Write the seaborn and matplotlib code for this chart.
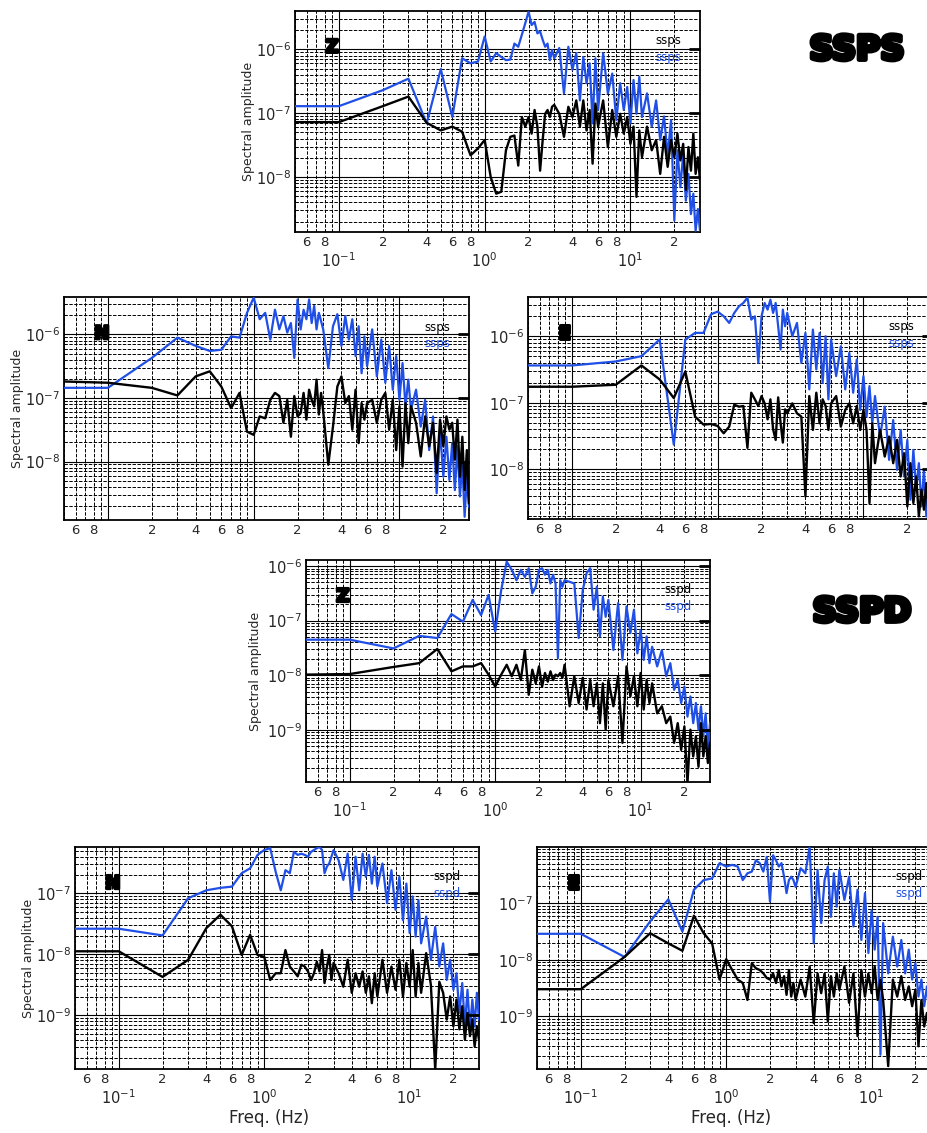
import numpy as np
import pandas as pd
import matplotlib
matplotlib.use("Agg")
import matplotlib.pyplot as plt
import matplotlib.patheffects as pe
from matplotlib import ticker
import seaborn as sns

# ---------------- data ----------------
freq_hz = [0.05, 0.1, 0.2, 0.3, 0.4, 0.5, 0.6, 0.7, 0.8, 0.9, 1.0,
           1.1, 1.2, 1.3, 1.4, 1.5, 1.6, 1.7, 1.8, 1.9, 2.0,
           2.1, 2.2, 2.3, 2.4, 2.5, 2.6, 2.7, 2.8, 2.9, 3.0,
           3.25, 3.5, 3.75, 4.0, 4.25, 4.5, 4.75, 5.0, 5.25, 5.5, 5.75, 6.0,
           6.5, 7.0, 7.5, 8.0, 8.5, 9.0, 9.5, 10, 10.5, 11, 11.5, 12,
           13, 14, 15, 16, 17, 18, 19, 20, 21, 22, 23, 24, 25, 26, 27, 28, 29, 30]

# log10 of spectral amplitude
ssps_z_blue_log10 = [-6.89, -6.89, -6.64, -6.46, -7.16, -6.31, -7.06, -6.14, -6.22, -6.19, -5.80,
                     -6.19, -6.06, -6.12, -6.17, -6.16, -5.91, -5.96, -5.77, -5.59, -5.41,
                     -5.62, -5.57, -5.75, -5.72, -5.85, -5.96, -5.91, -6.17, -6.01, -6.14,
                     -5.98, -6.69, -5.96, -6.32, -6.06, -6.80, -6.12, -6.53, -6.22, -7.16, -6.14, -6.95,
                     -6.06, -6.69, -6.38, -7.11, -6.53, -6.95, -6.59, -7.16, -6.48, -7.01, -6.43, -7.06,
                     -6.69, -7.21, -6.80, -7.42, -7.05, -7.66, -7.11, -8.68, -7.58, -8.16, -7.64, -8.37, -7.95, -8.58, -8.26, -8.84, -8.50, -8.84]
ssps_z_black_log10 = [-7.14, -7.14, -6.89, -6.74, -7.15, -7.27, -7.21, -7.29, -7.66, -7.55, -7.42,
                      -8.00, -8.26, -8.23, -7.58, -7.37, -7.35, -7.82, -7.06, -7.21, -7.06,
                      -7.32, -6.95, -7.21, -7.90, -7.42, -7.01, -6.95, -7.06, -6.90, -6.87,
                      -7.01, -7.37, -6.90, -7.06, -6.80, -7.21, -6.80, -7.27, -6.95, -7.79, -6.85, -7.21,
                      -6.80, -7.53, -6.95, -7.37, -7.01, -7.32, -7.06, -7.48, -7.21, -8.31, -7.27, -7.69,
                      -7.21, -7.58, -7.42, -7.95, -7.37, -7.84, -7.42, -7.69, -7.32, -7.74, -7.48, -8.20, -7.53, -7.90, -7.32, -7.95, -7.69, -8.05]

ssps_n_blue_log10 = [-6.84, -6.84, -6.37, -6.05, -6.18, -6.26, -6.24, -6.03, -6.05, -5.66, -5.42,
                     -5.76, -5.66, -6.08, -5.61, -5.92, -5.71, -5.97, -5.82, -6.37, -5.45,
                     -5.92, -5.61, -5.76, -5.45, -5.82, -5.55, -5.92, -5.66, -5.79, -5.92,
                     -6.53, -5.87, -5.68, -6.18, -5.71, -6.08, -5.76, -6.34, -5.87, -6.61, -6.03, -6.50,
                     -5.92, -6.66, -6.08, -6.76, -6.18, -6.87, -6.34, -7.03, -6.45, -7.13, -6.71, -7.18,
                     -6.87, -7.45, -7.03, -7.82, -7.29, -8.50, -7.50, -8.24, -7.61, -8.29, -7.71, -8.45, -7.76, -8.55, -8.03, -8.87, -8.24, -8.71]
ssps_n_black_log10 = [-6.74, -6.76, -6.84, -6.96, -6.66, -6.58, -6.82, -7.16, -6.92, -7.53, -7.58,
                      -7.29, -7.32, -7.03, -6.92, -6.97, -7.39, -7.03, -7.61, -6.97, -7.29,
                      -7.24, -6.92, -7.34, -6.87, -7.03, -7.13, -6.71, -7.26, -6.92, -7.21,
                      -8.05, -7.45, -6.82, -6.66, -7.08, -6.97, -7.50, -6.87, -7.71, -7.08, -7.34, -7.08,
                      -7.03, -7.39, -7.03, -6.92, -7.50, -7.03, -7.82, -7.13, -8.08, -7.08, -7.71, -7.13,
                      -7.39, -7.92, -7.29, -7.76, -7.39, -8.18, -7.34, -7.76, -7.29, -7.50, -7.39, -7.97, -7.34, -8.24, -7.61, -8.45, -7.82, -8.66]

ssps_e_blue_log10 = [-6.44, -6.44, -6.38, -6.30, -6.05, -7.63, -6.05, -5.95, -5.95, -5.67, -5.63,
                     -5.70, -5.80, -5.65, -5.55, -5.50, -5.42, -5.75, -5.70, -6.40, -5.70,
                     -5.50, -5.60, -5.45, -5.65, -5.50, -5.85, -6.20, -5.60, -5.85, -5.65,
                     -6.00, -5.80, -6.40, -5.95, -6.80, -5.90, -6.50, -5.95, -6.70, -6.00, -6.95, -6.05,
                     -6.60, -6.15, -6.80, -6.25, -6.85, -6.35, -7.11, -6.60, -7.21, -6.75, -7.31, -6.90,
                     -7.51, -7.06, -7.86, -7.26, -8.01, -7.41, -8.11, -7.56, -8.46, -7.71, -8.31, -7.91, -8.56, -8.01, -8.71, -8.31, -8.71, -8.41]
ssps_e_black_log10 = [-6.76, -6.76, -6.73, -6.44, -6.65, -6.93, -6.53, -7.21, -7.33, -7.32, -7.35,
                      -7.46, -7.36, -7.03, -7.06, -7.05, -7.68, -6.85, -6.95, -7.05, -6.90,
                      -7.01, -7.25, -6.95, -7.40, -7.56, -6.92, -7.30, -7.60, -7.10, -7.16,
                      -7.01, -7.16, -7.21, -8.41, -6.90, -7.41, -6.85, -7.31, -6.95, -7.05, -7.41, -7.01,
                      -6.90, -7.36, -7.11, -7.01, -7.31, -7.05, -7.41, -7.11, -7.41, -8.51, -7.31, -7.91,
                      -7.41, -7.81, -7.51, -7.91, -7.56, -8.11, -7.76, -8.56, -7.91, -8.51, -8.11, -8.71, -8.31, -8.61, -8.21, -8.71, -8.41, -8.61]

sspd_z_blue_log10 = [-7.35, -7.35, -7.51, -7.28, -7.32, -6.88, -7.02, -6.62, -6.90, -6.53, -7.20,
                     -6.44, -5.92, -6.07, -6.26, -6.07, -6.20, -6.04, -6.50, -6.38, -6.07,
                     -6.04, -6.16, -6.07, -6.32, -6.16, -6.32, -7.69, -6.26, -6.38, -6.26,
                     -6.29, -6.32, -7.32, -6.44, -6.13, -6.04, -6.80, -6.38, -7.29, -6.56, -6.93, -6.62,
                     -7.54, -6.68, -7.72, -6.74, -7.23, -6.80, -7.60, -7.17, -7.72, -7.29, -7.78, -7.48,
                     -7.84, -7.54, -8.02, -7.78, -8.27, -8.09, -8.51, -8.21, -8.76, -8.39, -8.88, -8.51, -9.00, -8.57, -9.12, -8.70, -9.37, -8.88]
sspd_z_black_log10 = [-7.99, -7.98, -7.85, -7.78, -7.52, -7.93, -7.84, -7.84, -7.78, -7.99, -8.21,
                      -7.99, -7.81, -8.02, -7.81, -8.09, -7.54, -8.36, -7.90, -8.15, -7.84,
                      -8.21, -7.96, -8.12, -7.93, -8.09, -7.99, -8.02, -7.96, -8.05, -7.81,
                      -8.57, -8.02, -8.51, -8.05, -8.63, -8.09, -8.57, -8.15, -8.88, -8.15, -9.00, -8.09,
                      -8.57, -8.02, -9.24, -7.84, -8.39, -8.02, -8.57, -7.96, -8.63, -8.09, -8.51, -8.15,
                      -8.70, -8.57, -8.88, -8.76, -9.24, -8.88, -9.37, -8.94, -9.98, -9.00, -9.49, -9.12, -9.68, -8.88, -9.49, -9.12, -9.61, -9.24]

sspd_n_blue_log10 = [-7.58, -7.58, -7.69, -7.08, -6.95, -6.91, -6.89, -6.67, -6.59, -6.37, -6.29,
                     -6.26, -6.65, -6.95, -6.62, -6.67, -6.32, -6.37, -6.35, -6.37, -6.40,
                     -6.32, -6.29, -6.26, -6.24, -6.29, -6.67, -6.56, -6.51, -6.40, -6.29,
                     -6.46, -6.78, -6.35, -7.11, -6.40, -6.95, -6.35, -6.73, -6.37, -6.84, -6.40, -6.89,
                     -6.51, -7.16, -6.62, -7.27, -6.73, -7.44, -6.84, -7.65, -7.05, -7.71, -7.11, -7.82,
                     -7.38, -8.09, -7.55, -8.20, -7.82, -8.42, -8.09, -8.58, -8.31, -8.96, -8.47, -9.18, -8.58, -9.23, -8.74, -9.18, -8.63, -9.07]
sspd_n_black_log10 = [-7.95, -7.95, -8.37, -8.09, -7.57, -7.35, -7.54, -8.01, -7.68, -8.01, -8.04,
                      -8.42, -8.31, -8.31, -7.93, -8.20, -8.28, -8.36, -8.17, -8.20, -8.28,
                      -8.42, -8.31, -8.12, -8.28, -7.93, -8.47, -8.20, -8.01, -8.42, -8.14,
                      -8.31, -8.53, -8.09, -8.63, -8.31, -8.53, -8.28, -8.63, -8.36, -8.80, -8.31, -8.69,
                      -8.09, -8.63, -8.20, -8.58, -8.09, -8.69, -8.14, -8.53, -7.93, -8.69, -8.14, -8.63,
                      -7.98, -8.50, -9.89, -8.45, -8.63, -9.07, -8.69, -9.18, -8.74, -9.23, -8.85, -9.40, -8.96, -9.34, -9.07, -9.51, -9.18, -9.40]

sspd_e_blue_log10 = [-7.54, -7.54, -7.95, -7.32, -6.93, -7.50, -6.76, -6.59, -6.56, -6.29, -6.35,
                     -6.32, -6.35, -6.59, -6.47, -6.44, -6.24, -6.29, -6.44, -6.18, -6.97,
                     -6.15, -6.24, -6.35, -6.29, -6.53, -6.82, -6.59, -6.53, -6.59, -6.71,
                     -6.38, -6.47, -6.00, -7.71, -6.41, -7.35, -6.59, -6.35, -7.24, -6.47, -7.06, -6.41,
                     -6.94, -6.53, -7.41, -6.76, -7.65, -6.82, -7.88, -7.12, -7.82, -7.24, -9.68, -7.35,
                     -8.24, -7.59, -8.12, -7.65, -8.24, -7.82, -8.35, -8.06, -8.65, -8.35, -8.82, -8.47, -8.94, -8.59, -9.06, -8.71, -9.18, -8.82]
sspd_e_black_log10 = [-8.52, -8.52, -7.95, -7.53, -7.71, -7.84, -7.22, -7.53, -7.71, -8.35, -7.99,
                      -8.18, -8.35, -8.41, -8.71, -8.06, -8.15, -8.18, -8.24, -8.32, -8.35,
                      -8.24, -8.41, -8.18, -8.47, -8.29, -8.62, -8.18, -8.65, -8.41, -8.71,
                      -8.35, -8.65, -8.12, -9.12, -8.24, -8.59, -8.24, -9.09, -8.29, -8.65, -8.24, -8.53,
                      -8.12, -8.76, -8.24, -9.35, -8.18, -8.65, -8.24, -8.59, -8.12, -8.71, -8.35, -8.71,
                      -9.88, -8.35, -8.65, -8.29, -8.71, -8.47, -8.82, -8.53, -9.53, -8.71, -9.18, -8.94, -9.29, -9.06, -9.41, -9.18, -9.53, -9.29]

component_labels = ["Z", "N", "E", "Z", "N", "E"]
station_tags = ["ssps", "ssps", "ssps", "sspd", "sspd", "sspd"]
group_titles = ["SSPS", "SSPD"]
y_label = "Spectral amplitude"
x_label = "Freq. (Hz)"

# ---------------- styling ----------------
sns.set_style("white")
plt.rcParams['font.family'] = ['DejaVu Sans']
plt.rcParams['mathtext.fontset'] = 'dejavusans'

BLUE = "#1f4fe6"
W, H = 928, 1133
fig = plt.figure(figsize=(W / 100, H / 100), dpi=100)


def rect(left, top, right, bottom):
    return [left / W, 1 - bottom / H, (right - left) / W, (bottom - top) / H]


panels = [
    dict(r=rect(295, 11, 700, 232), blue=ssps_z_blue_log10, black=ssps_z_black_log10,
         ylim=(1.38e-9, 3.98e-6), ylab=True, dec=True, xlab=False, ycoord=-0.098),
    dict(r=rect(64, 297, 469, 520), blue=ssps_n_blue_log10, black=ssps_n_black_log10,
         ylim=(1.20e-9, 3.89e-6), ylab=True, dec=False, xlab=False, ycoord=-0.098),
    dict(r=rect(528, 297, 933, 519), blue=ssps_e_blue_log10, black=ssps_e_black_log10,
         ylim=(1.78e-9, 3.89e-6), ylab=False, dec=False, xlab=False, ycoord=-0.098),
    dict(r=rect(306, 560, 710, 782), blue=sspd_z_blue_log10, black=sspd_z_black_log10,
         ylim=(1.10e-10, 1.29e-6), ylab=True, dec=True, xlab=False, ycoord=-0.11),
    dict(r=rect(75, 847, 479, 1069), blue=sspd_n_blue_log10, black=sspd_n_black_log10,
         ylim=(1.32e-10, 5.75e-7), ylab=True, dec=True, xlab=True, ycoord=-0.1),
    dict(r=rect(537, 847, 941, 1069), blue=sspd_e_blue_log10, black=sspd_e_black_log10,
         ylim=(1.17e-10, 9.9e-7), ylab=False, dec=True, xlab=True, ycoord=-0.1),
]

decades = [10.0 ** e for e in range(-12, 3)]
minors = [m * 10.0 ** e for e in range(-12, 3) for m in range(2, 10)]


def minor_fmt(v, pos):
    m = v / 10 ** np.floor(np.log10(v) + 1e-9)
    m = int(round(m))
    return str(m) if m in (2, 4, 6, 8) else ""


def dec_fmt(v, pos):
    e = int(round(np.log10(v)))
    return r"$10^{%d}$" % e


for i, p in enumerate(panels):
    ax = fig.add_axes(p["r"])
    ax.set_xscale("log")
    ax.set_yscale("log")
    ax.set_xlim(0.05, 30)
    ax.set_ylim(*p["ylim"])

    df = pd.DataFrame({
        "freq": freq_hz * 2,
        "amp": list(10.0 ** np.asarray(p["blue"])) + list(10.0 ** np.asarray(p["black"])),
        "trace": ["blue"] * len(freq_hz) + ["black"] * len(freq_hz),
    })
    sns.lineplot(data=df[df.trace == "blue"], x="freq", y="amp", ax=ax, color=BLUE,
                 linewidth=1.6, estimator=None, sort=False, legend=False, zorder=3)
    sns.lineplot(data=df[df.trace == "black"], x="freq", y="amp", ax=ax, color="black",
                 linewidth=1.7, estimator=None, sort=False, legend=False, zorder=4)
    ax.set_xlim(0.05, 30)
    ax.set_ylim(*p["ylim"])

    # grids
    ax.xaxis.set_major_locator(ticker.FixedLocator([0.1, 1, 10]))
    ax.xaxis.set_minor_locator(ticker.FixedLocator(minors))
    ax.yaxis.set_major_locator(ticker.FixedLocator(decades))
    ax.yaxis.set_minor_locator(ticker.FixedLocator(minors))
    ax.grid(True, which="major", color="black", lw=0.8, ls="-", zorder=1)
    ax.grid(True, which="minor", color="black", lw=0.7, ls=(0, (3.5, 1.5)), zorder=1)
    ax.set_axisbelow(True)

    # tick labels
    ax.xaxis.set_minor_formatter(ticker.FuncFormatter(minor_fmt))
    if p["dec"]:
        ax.xaxis.set_major_formatter(ticker.FuncFormatter(dec_fmt))
    else:
        ax.xaxis.set_major_formatter(ticker.NullFormatter())
    ax.yaxis.set_major_formatter(ticker.FuncFormatter(dec_fmt))
    ax.yaxis.set_minor_formatter(ticker.NullFormatter())
    ax.tick_params(axis="x", which="minor", length=0, pad=3, labelsize=9.5)
    ax.tick_params(axis="x", which="major", length=0, pad=14, labelsize=10.5)
    ax.tick_params(axis="y", which="both", length=0, pad=3, labelsize=10.5)

    for s in ax.spines.values():
        s.set_color("black")
        s.set_linewidth(1.3)

    # right-side thick decade marks
    rax = ax.twinx()
    rax.set_yscale("log")
    rax.set_ylim(*p["ylim"])
    rax.yaxis.set_major_locator(ticker.FixedLocator(decades))
    rax.yaxis.set_minor_locator(ticker.NullLocator())
    rax.tick_params(axis="y", which="major", direction="in", length=8, width=2,
                    labelright=False, color="black")
    rax.grid(False)
    for s in rax.spines.values():
        s.set_visible(False)

    if p["ylab"]:
        ax.set_ylabel(y_label, fontsize=9)
        ax.yaxis.set_label_coords(p["ycoord"], 0.5)
    else:
        ax.set_ylabel("")
    if p["xlab"]:
        ax.set_xlabel(x_label, fontsize=12)
        ax.xaxis.set_label_coords(0.48, -0.178)
    else:
        ax.set_xlabel("")

    # component label
    ax.text(0.075, 0.835, component_labels[i], transform=ax.transAxes, fontsize=13,
            fontweight="black", color="black", ha="left", va="center", zorder=6,
            path_effects=[pe.withStroke(linewidth=2.2, foreground="black")])
    # legend-like station tags
    ax.text(0.955, 0.865, station_tags[i], transform=ax.transAxes, fontsize=8.5,
            color="black", ha="right", va="center", zorder=6)
    ax.text(0.955, 0.79, station_tags[i], transform=ax.transAxes, fontsize=8.5,
            color=BLUE, ha="right", va="center", zorder=6)

for title, (x, y) in zip(group_titles, [(857, 50), (862, 612)]):
    fig.text(x / W, 1 - y / H, title, fontsize=24, fontweight="black", color="black",
             ha="center", va="center",
             path_effects=[pe.withStroke(linewidth=3.5, foreground="black")])

fig.savefig("out.png", dpi=100)
